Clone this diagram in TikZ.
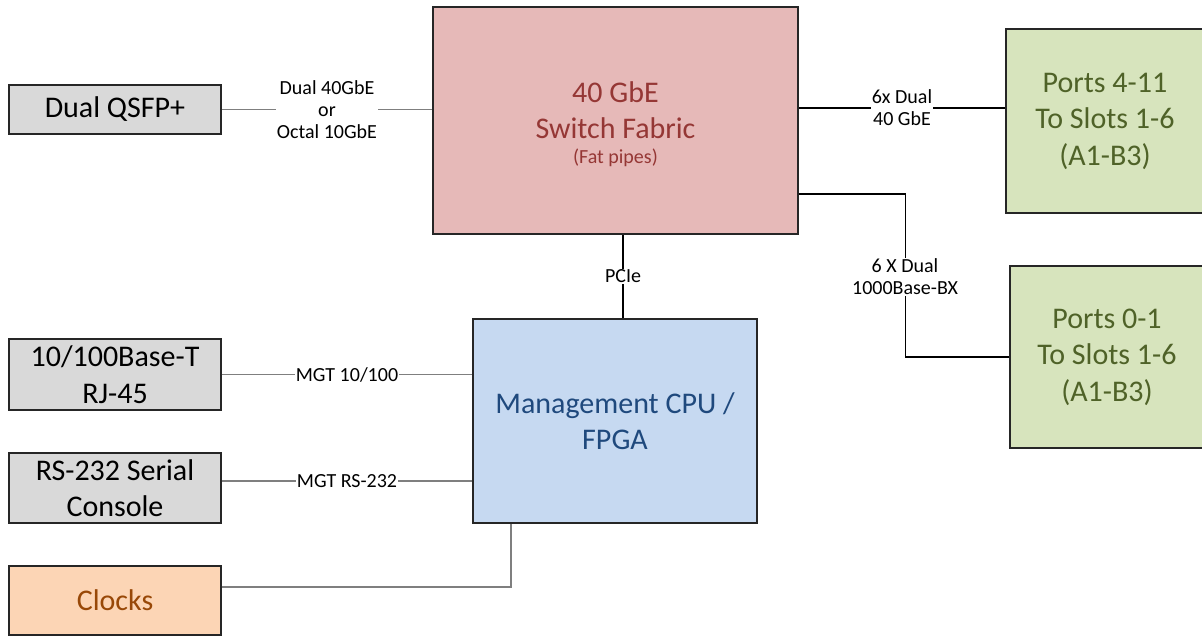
\documentclass[tikz,border=0pt]{standalone}
\usepackage{fontspec}
\setmainfont{Carlito}
\definecolor{grayfill}{HTML}{D9D9D9}
\definecolor{swfill}{HTML}{E6B9B8}
\definecolor{swtext}{HTML}{953735}
\definecolor{grfill}{HTML}{D7E4BD}
\definecolor{grtext}{HTML}{4F6228}
\definecolor{blfill}{HTML}{C6D9F1}
\definecolor{bltext}{HTML}{1F497D}
\definecolor{ckfill}{HTML}{FCD5B5}
\definecolor{cktext}{HTML}{984807}
\definecolor{linegray}{HTML}{7F7F7F}
\begin{document}
\begin{tikzpicture}[x=1pt,y=-1pt,
  box/.style={draw=black!85,line width=1.4pt,align=center,inner sep=0pt,
    font=\fontsize{30}{36.5}\selectfont},
  lab/.style={fill=white,align=center,inner sep=1pt,font=\fontsize{20}{22}\selectfont},
  blk/.style={draw=black,line width=1.5pt},
  gry/.style={draw=linegray,line width=1.1pt}]
\useasboundingbox (0,0) rectangle (1202,637);
% boxes
\node[box,fill=grayfill,minimum width=212pt,minimum height=49pt] (qsfp) at (115,109.5) {Dual QSFP+};
\node[box,fill=swfill,minimum width=365pt,minimum height=227pt] (sw) at (615.5,120.5) {};
\node[text=swtext,font=\fontsize{30}{36}\selectfont,align=center,inner sep=0pt] (swt) at (615.5,110) {40 GbE\\Switch Fabric};
\node[text=swtext,font=\fontsize{20}{22}\selectfont,inner sep=0pt] (swf) at (615.5,158) {(Fat pipes)};
\node[box,fill=grfill,text=grtext,minimum width=198pt,minimum height=184pt] (p411) at (1105,121) {Ports 4-11\\To Slots 1-6\\(A1-B3)};
\node[box,fill=grfill,text=grtext,minimum width=194pt,minimum height=182pt] (p01) at (1107,357) {Ports 0-1\\To Slots 1-6\\(A1-B3)};
\node[box,fill=blfill,text=bltext,minimum width=284pt,minimum height=204pt] (cpu) at (615,421) {Management CPU /\\FPGA};
\node[box,fill=grayfill,minimum width=212pt,minimum height=71pt] (t100) at (115,374.5) {10/100Base-T\\RJ-45};
\node[box,fill=grayfill,minimum width=212pt,minimum height=70pt] (rs) at (115,488) {RS-232 Serial\\Console};
\node[box,fill=ckfill,text=cktext,minimum width=212pt,minimum height=69pt] (clk) at (115,600.5) {Clocks};
% connectors
\draw[gry] (qsfp.east) -- (qsfp.east -| sw.west)
  node[lab,pos=0.5] (lqsfp) {Dual 40GbE\\or\\Octal 10GbE};
\draw[blk] ([xshift=8pt]cpu.north) -- ([xshift=8pt]cpu.north |- sw.south)
  node[lab,pos=0.5] (lpcie) {PCIe};
\draw[blk] ([yshift=13pt]p411.west) -- ([yshift=13pt]p411.west -| sw.east)
  node[lab,pos=0.5] (l6x) {6x Dual\\40 GbE};
\coordinate (bxa) at ([yshift=-73.5pt]sw.east);
\coordinate (bxb) at ([xshift=107pt]bxa);
\draw[blk] (bxa) -- (bxb) |- (p01.west);
\node[lab] (lbx) at (905,277) {6 X Dual\\1000Base-BX};
\draw[gry] (t100.east) -- (t100.east -| cpu.west)
  node[lab,pos=0.5,inner xsep=0.5pt] (lmgt1) {MGT 10/100};
\draw[gry] ([yshift=7pt]rs.east) -- ([yshift=7pt]rs.east -| cpu.west)
  node[lab,pos=0.5,inner xsep=0.5pt] (lmgt2) {MGT RS-232};
\draw[gry] ([yshift=13.5pt]clk.east) -| ([xshift=-104pt]cpu.south);
\end{tikzpicture}
\end{document}
